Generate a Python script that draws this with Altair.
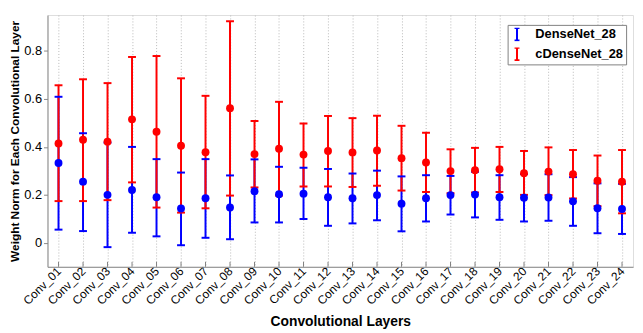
import altair as alt
import pandas as pd

categories = ["Conv_01", "Conv_02", "Conv_03", "Conv_04", "Conv_05", "Conv_06",
              "Conv_07", "Conv_08", "Conv_09", "Conv_10", "Conv_11", "Conv_12",
              "Conv_13", "Conv_14", "Conv_15", "Conv_16", "Conv_17", "Conv_18",
              "Conv_19", "Conv_20", "Conv_21", "Conv_22", "Conv_23", "Conv_24"]

models = ["DenseNet_28", "cDenseNet_28"]
model_colors = ["#0000ff", "#ff0000"]

dense_mean = [0.333, 0.255, 0.200, 0.220, 0.190, 0.143, 0.186, 0.147, 0.215, 0.203, 0.205, 0.190,
              0.186, 0.199, 0.163, 0.186, 0.199, 0.201, 0.190, 0.188, 0.189, 0.173, 0.144, 0.141]
dense_lower = [0.055, 0.049, -0.018, 0.042, 0.027, -0.010, 0.021, 0.015, 0.085, 0.085, 0.099, 0.071,
               0.081, 0.094, 0.048, 0.089, 0.118, 0.106, 0.096, 0.089, 0.092, 0.071, 0.040, 0.037]
dense_upper = [0.609, 0.457, 0.418, 0.400, 0.349, 0.293, 0.349, 0.281, 0.348, 0.317, 0.313, 0.308,
               0.289, 0.301, 0.277, 0.282, 0.279, 0.296, 0.282, 0.287, 0.286, 0.274, 0.248, 0.246]

cdense_mean = [0.414, 0.430, 0.422, 0.515, 0.463, 0.405, 0.378, 0.561, 0.370, 0.392, 0.368, 0.383,
               0.377, 0.385, 0.353, 0.335, 0.299, 0.303, 0.307, 0.290, 0.297, 0.286, 0.259, 0.255]
cdense_lower = [0.174, 0.174, 0.178, 0.252, 0.147, 0.126, 0.144, 0.197, 0.231, 0.197, 0.235, 0.235,
                0.233, 0.238, 0.218, 0.212, 0.207, 0.210, 0.212, 0.200, 0.199, 0.185, 0.153, 0.123]
cdense_upper = [0.657, 0.682, 0.666, 0.775, 0.779, 0.686, 0.613, 0.924, 0.508, 0.588, 0.498, 0.529,
                0.520, 0.530, 0.488, 0.459, 0.390, 0.396, 0.400, 0.383, 0.398, 0.387, 0.364, 0.387]

rows = []
for model, means, lows, ups in [(models[0], dense_mean, dense_lower, dense_upper),
                                (models[1], cdense_mean, cdense_lower, cdense_upper)]:
    for cat, m, lo, up in zip(categories, means, lows, ups):
        rows.append({"model": model, "layer": cat, "mean": m, "lower": lo, "upper": up})
df = pd.DataFrame(rows)
cat_df = pd.DataFrame({"layer": categories})

FONT = "Liberation Sans"
W, H = 593, 255

x_enc = alt.X(
    "layer:N", sort=categories,
    scale=alt.Scale(type="point", padding=0.45),
    axis=alt.Axis(title="Convolutional Layers", labelAngle=315, labelAlign="right",
                  labelBaseline="middle", labelFontSize=12, labelPadding=2,
                  titleFontSize=14, titleFontWeight="bold", titleColor="black",
                  titlePadding=8, ticks=False, grid=True, gridDash=[1, 2],
                  gridColor="#b8b8b8", gridWidth=1),
)
y_scale = alt.Scale(domain=[-0.1, 0.95], nice=False, zero=False)
y_axis = alt.Axis(title="Weight Norm for Each Convolutional Layer", values=[0, 0.2, 0.4, 0.6, 0.8],
                  format="~g", labelFontSize=13, tickSize=4, labelPadding=2, grid=False,
                  titleFontSize=12, titleFontWeight="bold", titleColor="black", titlePadding=2,
                  titleLimit=400)

rules = alt.Chart(df).mark_rule(strokeWidth=2).encode(
    x=x_enc,
    y=alt.Y("lower:Q", scale=y_scale, axis=y_axis),
    y2="upper:Q",
    color=alt.Color("model:N", scale=alt.Scale(domain=models, range=model_colors),
                    legend=alt.Legend(title=None, orient="none", legendX=466, legendY=10,
                                      symbolType="M-0.5,-1.25H0.5M0,-1.25V1.25M-0.5,1.25H0.5",
                                      symbolSize=100, symbolStrokeWidth=2,
                                      labelFont=FONT, labelFontSize=13, labelFontWeight="bold",
                                      labelColor="black", labelOffset=12, rowPadding=6,
                                      clipHeight=13,
                                      padding=3, strokeColor="#808080", fillColor="white")),
)

layers = [rules]
for model, col in zip(models, model_colors):
    sub = df[df["model"] == model]
    for field in ["lower", "upper"]:
        layers.append(alt.Chart(sub).mark_tick(color=col, thickness=2, size=8, opacity=1).encode(
            x=alt.X("layer:N", sort=categories),
            y=alt.Y(f"{field}:Q"),
        ))
for model, col in zip(models, model_colors):
    sub = df[df["model"] == model]
    layers.append(alt.Chart(sub).mark_circle(color=col, size=64, opacity=1).encode(
        x=alt.X("layer:N", sort=categories),
        y=alt.Y("mean:Q"),
    ))

inner_ticks = alt.Chart(cat_df).mark_rule(color="#808080", strokeWidth=1).encode(
    x=alt.X("layer:N", sort=categories),
    y=alt.value(H),
    y2=alt.value(H - 5),
)
layers.append(inner_ticks)

chart = alt.layer(*layers).properties(
    width=W, height=H,
    padding={"left": 40, "top": 5, "right": 2, "bottom": 70},
    autosize=alt.AutoSizeParams(type="none"),
).configure_view(stroke=None).configure_axis(
    domainColor="#808080", tickColor="#808080", labelColor="#404040",
    labelFont=FONT, titleFont=FONT,
).configure(background="white")

chart.save("out.html", embed_options={"renderer": "svg", "actions": False})
